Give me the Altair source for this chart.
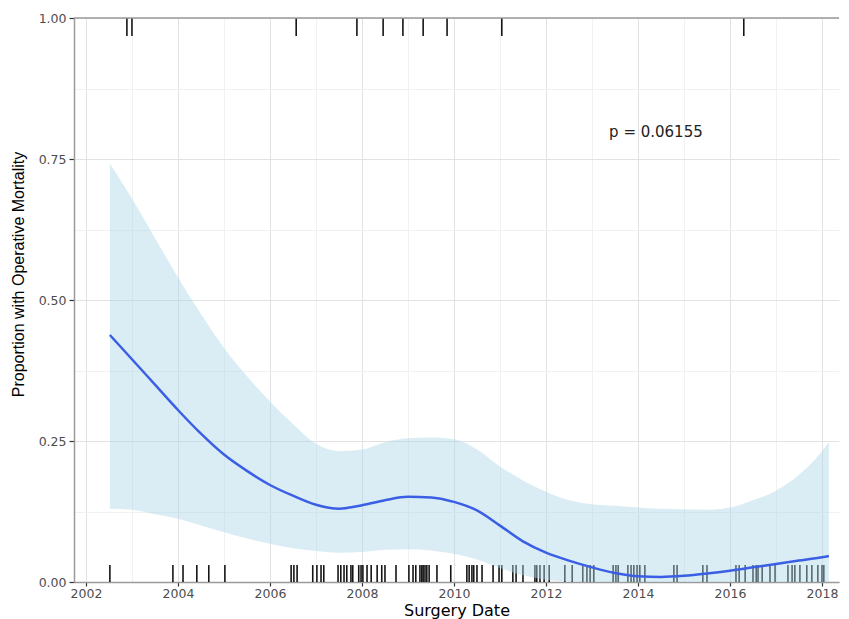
import altair as alt
import pandas as pd

# ---- data ----
FIT_YEAR = [2002.52, 2003.0, 2003.5, 2004.0, 2004.5, 2005.0, 2005.5, 2006.0, 2006.5,
            2007.0, 2007.5, 2008.0, 2008.5, 2009.0, 2009.5, 2010.0, 2010.5, 2011.0,
            2011.5, 2012.0, 2012.5, 2013.0, 2013.5, 2014.0, 2014.5, 2015.0, 2015.5,
            2016.0, 2016.5, 2017.0, 2017.5, 2018.0, 2018.15]
FIT = [0.438, 0.395, 0.350, 0.305, 0.263, 0.226, 0.197, 0.172, 0.153,
       0.137, 0.130, 0.136, 0.145, 0.151, 0.150, 0.142, 0.127, 0.100,
       0.072, 0.052, 0.038, 0.026, 0.016, 0.010, 0.009, 0.011, 0.015,
       0.020, 0.026, 0.032, 0.038, 0.044, 0.046]
LOWER = [0.130, 0.128, 0.120, 0.112, 0.100, 0.088, 0.077, 0.068, 0.060,
         0.055, 0.052, 0.053, 0.057, 0.058, 0.056, 0.050, 0.040, 0.025,
         0.012, 0.004, 0.001, 0.0, 0.0, 0.0, 0.0, 0.0, 0.0,
         0.0, 0.0, 0.0, 0.0, 0.0, 0.0]
UPPER = [0.742, 0.680, 0.610, 0.540, 0.475, 0.415, 0.365, 0.320, 0.280,
         0.245, 0.232, 0.235, 0.248, 0.255, 0.256, 0.253, 0.235, 0.205,
         0.180, 0.160, 0.145, 0.138, 0.135, 0.132, 0.130, 0.129, 0.128,
         0.132, 0.145, 0.162, 0.190, 0.232, 0.248]

DEATH_YEARS = [2002.89, 2003.00, 2006.57, 2007.89, 2008.46, 2008.89, 2009.33,
               2009.85, 2011.04, 2016.30]
SURVIVOR_YEARS = [
    2002.52, 2003.89, 2004.11, 2004.41, 2004.67, 2005.02,
    2006.46, 2006.52, 2006.59, 2006.93, 2007.02, 2007.11, 2007.17, 2007.48,
    2007.54, 2007.61, 2007.67, 2007.76, 2007.80, 2007.93, 2007.98, 2008.02,
    2008.11, 2008.20, 2008.33, 2008.43, 2008.50, 2008.74, 2009.02, 2009.11,
    2009.17, 2009.26, 2009.30, 2009.33, 2009.37, 2009.41, 2009.46, 2009.63,
    2009.93, 2010.28, 2010.33, 2010.39, 2010.43, 2010.50, 2010.61, 2010.85,
    2010.98, 2011.04, 2011.28, 2011.35, 2011.50, 2011.76, 2011.80, 2011.87,
    2011.96, 2012.07, 2012.41, 2012.57, 2012.80, 2012.89, 2012.96, 2013.04,
    2013.46, 2013.52, 2013.57, 2013.78, 2013.85, 2013.91, 2013.98, 2014.04,
    2014.15, 2014.78, 2014.85, 2015.41, 2015.50, 2016.13, 2016.20, 2016.33,
    2016.50, 2016.57, 2016.61, 2016.70, 2016.87, 2016.98, 2017.26, 2017.35,
    2017.41, 2017.52, 2017.67, 2017.78, 2017.91, 2018.00, 2018.04]

X_TICKS = list(range(2002, 2019))
Y_TICKS = [0, 0.125, 0.25, 0.375, 0.5, 0.625, 0.75, 0.875, 1.0]
X_DOMAIN = [2001.74, 2018.37]
Y_DOMAIN = [0, 1]
P_LABEL = "p = 0.06155"
X_TITLE = "Surgery Date"
Y_TITLE = "Proportion with Operative Mortality"

fit_df = pd.DataFrame({"year": FIT_YEAR, "fit": FIT, "lower": LOWER, "upper": UPPER})
rug_df = pd.DataFrame({
    "year": DEATH_YEARS + SURVIVOR_YEARS,
    "outcome": [1] * len(DEATH_YEARS) + [0] * len(SURVIVOR_YEARS),
})

xscale = alt.Scale(domain=X_DOMAIN, nice=False, zero=False)
yscale = alt.Scale(domain=Y_DOMAIN, nice=False, zero=False)

xaxis = alt.Axis(
    values=X_TICKS,
    labelExpr="datum.value % 2 == 0 ? format(datum.value, 'd') : ''",
    tickOpacity={"condition": {"test": "datum.value % 2 == 1", "value": 0}, "value": 1},
    gridColor={"condition": {"test": "datum.value % 2 == 1", "value": "#f1f1f1"}, "value": "#e2e2e2"},
    gridWidth=1,
    tickSize=4, tickColor="#333333", tickWidth=1.2,
    domainColor="#9a9a9a", domainWidth=1.5,
    labelFont="DejaVu Sans", labelFontSize=12.5, labelColor="#4d4d4d", labelPadding=1,
    labelFlush=False, labelOverlap=False,
    titleFont="DejaVu Sans", titleFontSize=16, titleColor="#000000",
    titleFontWeight="normal", titleY=33, titleBaseline="alphabetic",
)
yaxis = alt.Axis(
    values=Y_TICKS,
    labelExpr="(datum.value * 8) % 2 == 0 ? format(datum.value, '.2f') : ''",
    tickOpacity={"condition": {"test": "(datum.value * 8) % 2 == 1", "value": 0}, "value": 1},
    gridColor={"condition": {"test": "(datum.value * 8) % 2 == 1", "value": "#f1f1f1"}, "value": "#e2e2e2"},
    gridWidth=1,
    tickSize=5, tickColor="#333333", tickWidth=1.2,
    domainColor="#9a9a9a", domainWidth=1.5,
    labelFont="DejaVu Sans", labelFontSize=12.5, labelColor="#4d4d4d", labelPadding=3,
    labelFlush=False, labelOverlap=False,
    titleFont="Liberation Sans", titleFontSize=16, titleColor="#000000",
    titleFontWeight="normal", titleX=-56, titleY=256, titleBaseline="middle",
)

X = alt.X("year:Q", scale=xscale, axis=xaxis, title=X_TITLE)

rug = alt.Chart(rug_df).transform_calculate(
    y2="datum.outcome == 1 ? 0.968 : 0.03"
).mark_rule(color="#151515", strokeWidth=1.6).encode(
    x=X,
    y=alt.Y("outcome:Q", scale=yscale, axis=yaxis, title=Y_TITLE),
    y2="y2:Q",
)

band = alt.Chart(fit_df).mark_area(
    color="lightblue", opacity=0.45, clip=True, interpolate="monotone"
).encode(
    x=X,
    y=alt.Y("lower:Q", scale=yscale, axis=yaxis, title=Y_TITLE),
    y2="upper:Q",
)

line = alt.Chart(fit_df).mark_line(
    color="#3a5fe5", strokeWidth=2.5, clip=True, interpolate="monotone"
).encode(
    x=X,
    y=alt.Y("fit:Q", scale=yscale, axis=yaxis, title=Y_TITLE),
)

top_border = alt.Chart(pd.DataFrame({"v": [1]})).mark_rule(
    color="#9a9a9a", strokeWidth=1.5
).encode(y=alt.datum(1.0))

label = alt.Chart(pd.DataFrame({"v": [1]})).mark_text(
    font="DejaVu Sans", fontSize=15, color="#222222", align="center", baseline="middle"
).encode(x=alt.datum(2014.39), y=alt.datum(0.798), text=alt.value(P_LABEL))

chart = alt.layer(rug, band, line, top_border, label).properties(
    width=765,
    height=564,
    padding={"left": 66, "top": 10, "right": 2, "bottom": 37},
    autosize=alt.AutoSizeParams(type="none"),
).configure_view(stroke=None)

chart.save("out.html", embed_options={"renderer": "svg", "actions": False})
